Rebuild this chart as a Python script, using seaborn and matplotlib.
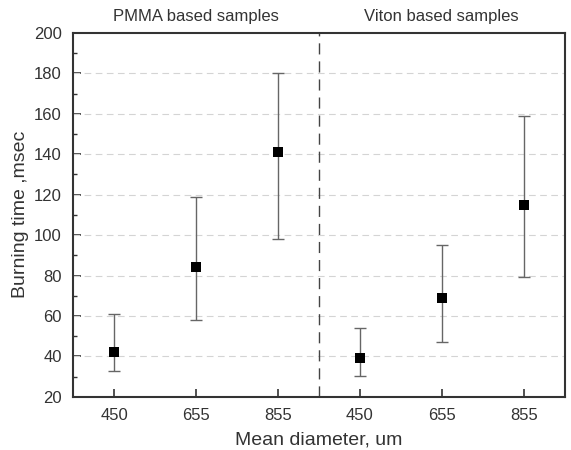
import numpy as np
import pandas as pd
import seaborn as sns
from matplotlib import pyplot as plt
from matplotlib.ticker import MultipleLocator

# data
diameters = ['450', '655', '855']
groups = ['PMMA based samples', 'Viton based samples']
pmma_time = [42, 84, 141]
pmma_low = [33, 58, 98]
pmma_high = [61, 119, 180]
viton_time = [39, 69, 115]
viton_low = [30.5, 47, 79.5]
viton_high = [54, 95, 159]

dfData = pd.DataFrame({
    'Diameter': diameters * 2,
    'Group': [groups[0]] * 3 + [groups[1]] * 3,
    'Time': pmma_time + viton_time,
    'Low': pmma_low + viton_low,
    'High': pmma_high + viton_high,
})
dfData['Pos'] = np.arange(len(dfData)) + 0.5

sns.set_style('ticks')
plt.rcParams['font.family'] = ['Liberation Sans', 'DejaVu Sans']

fig = plt.figure(figsize=(5.71, 4.5), dpi=100)
ax = fig.add_axes([0.128, 0.118, 0.861, 0.809])

# error bars
yerr = np.vstack([dfData.Time - dfData.Low, dfData.High - dfData.Time])
ax.errorbar(dfData.Pos, dfData.Time, yerr=yerr, fmt='none',
            ecolor='#666666', elinewidth=1.0, capsize=4, capthick=1.0, zorder=2)
sns.scatterplot(data=dfData, x='Pos', y='Time', ax=ax, marker='s', s=50,
                color='black', edgecolor='black', linewidth=0, zorder=3,
                legend=False)

ax.set_xlim(0, 6)
ax.set_ylim(20, 200)
ax.set_xticks(dfData.Pos)
ax.set_xticklabels(dfData.Diameter)
ax.yaxis.set_major_locator(MultipleLocator(20))
ax.yaxis.set_minor_locator(MultipleLocator(10))

# grid and separator
for yv in range(40, 200, 20):
    ax.axhline(yv, color='#d4d4d4', linestyle=(0, (6, 4)), linewidth=0.8, zorder=1)
ax.axvline(3, color='#444444', linestyle=(0, (8, 5)), linewidth=1.0, zorder=1)

ax.tick_params(axis='both', which='major', direction='in', length=6,
               width=1.2, labelsize=12, colors='#333333', pad=8)
ax.tick_params(axis='y', which='minor', direction='in', length=3, width=1.0,
               colors='#333333')
ax.tick_params(axis='x', which='minor', bottom=False)
for sp in ax.spines.values():
    sp.set_color('#333333')
    sp.set_linewidth(1.5)

ax.set_xlabel('Mean diameter, um', fontsize=14, color='#333333', labelpad=6)
ax.set_ylabel('Burning time ,msec', fontsize=14, color='#333333', labelpad=4)

ax.text(1.5, 1.025, groups[0], transform=ax.get_xaxis_transform(),
        ha='center', va='bottom', fontsize=12, color='#333333')
ax.text(4.5, 1.025, groups[1], transform=ax.get_xaxis_transform(),
        ha='center', va='bottom', fontsize=12, color='#333333')

fig.savefig('out.png', dpi=100)
